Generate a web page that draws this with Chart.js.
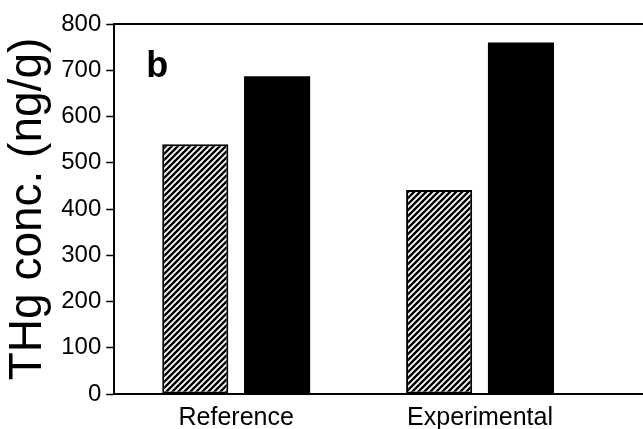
<!DOCTYPE html>
<html>
<head>
<meta charset="utf-8">
<script src="https://cdn.jsdelivr.net/npm/chart.js@4/dist/chart.umd.min.js"></script>
<style>
  html, body { margin: 0; padding: 0; background: #fff; }
  #wrap { width: 643px; height: 429px; }
</style>
</head>
<body>
<div id="wrap"><canvas id="barras"></canvas></div>
<script>
// datos
var categorias = ["Reference", "Experimental"];
var valoresRayados = [540, 441];
var valoresNegros = [687, 760];
var ticksY = [0, 100, 200, 300, 400, 500, 600, 700, 800];

var fuente = "'Liberation Sans', Arial, Helvetica, sans-serif";

// patron de rayas diagonales "/"
function patronRayado() {
    var c = document.createElement("canvas");
    c.width = 6;
    c.height = 6;
    var ctx = c.getContext("2d");
    ctx.fillStyle = "#fff";
    ctx.fillRect(0, 0, 6, 6);
    ctx.strokeStyle = "#000";
    ctx.lineWidth = 2.4;
    ctx.beginPath();
    ctx.moveTo(-1, 7); ctx.lineTo(7, -1);
    ctx.moveTo(-4, 4); ctx.lineTo(4, -4);
    ctx.moveTo(2, 10); ctx.lineTo(10, 2);
    ctx.stroke();
    return ctx.createPattern(c, "repeat");
}

// marco: linea superior e inferior hasta el borde derecho, y la letra "b"
var marco = {
    id: "marco",
    afterDraw: function (chart) {
        var ctx = chart.ctx;
        var a = chart.chartArea;
        ctx.save();
        ctx.strokeStyle = "#000";
        ctx.lineWidth = 2;
        ctx.beginPath();
        ctx.moveTo(a.left - 1, a.top);
        ctx.lineTo(chart.width, a.top);
        ctx.moveTo(a.left - 1, a.bottom);
        ctx.lineTo(chart.width, a.bottom);
        ctx.stroke();
        ctx.fillStyle = "#000";
        ctx.font = "bold 36px " + fuente;
        ctx.textBaseline = "alphabetic";
        ctx.fillText("b", a.left + 32, 77);
        ctx.restore();
    }
};

function cargaGraficoBarras() {
    var datos = {
        labels: categorias,
        datasets: [{
            label: "Rayado",
            data: valoresRayados,
            backgroundColor: patronRayado(),
            borderColor: "#000",
            borderWidth: 2,
            borderSkipped: false
        }, {
            label: "Negro",
            data: valoresNegros,
            backgroundColor: "#000",
            borderColor: "#000",
            borderWidth: 0
        }]
    };

    var config = {
        type: "bar",
        data: datos,
        plugins: [marco],
        options: {
            responsive: true,
            maintainAspectRatio: false,
            animation: false,
            layout: { padding: { top: 24, right: 41, left: 1, bottom: -14 } },
            categoryPercentage: 0.671,
            barPercentage: 0.808,
            plugins: {
                legend: { display: false },
                tooltip: { enabled: false }
            },
            scales: {
                x: {
                    grid: { display: false, drawTicks: false },
                    border: { display: false },
                    ticks: {
                        color: "#000",
                        padding: 12,
                        font: { family: fuente, size: 25, lineHeight: 1 }
                    }
                },
                y: {
                    min: 0,
                    max: 800,
                    afterBuildTicks: function (eje) {
                        eje.ticks = ticksY.map(function (v) { return { value: v }; });
                    },
                    grid: {
                        drawOnChartArea: false,
                        tickLength: 8,
                        tickColor: "#000",
                        tickWidth: 1.5
                    },
                    border: { color: "#000", width: 2 },
                    ticks: {
                        color: "#000",
                        padding: 5,
                        font: { family: fuente, size: 24 }
                    },
                    title: {
                        display: true,
                        text: "THg conc. (ng/g)",
                        color: "#000",
                        padding: { top: 0, bottom: 0 },
                        font: { family: fuente, size: 46 }
                    }
                }
            }
        }
    };
    var grafico = document.getElementById("barras").getContext("2d");
    new Chart(grafico, config);
}

cargaGraficoBarras();
</script>
</body>
</html>
